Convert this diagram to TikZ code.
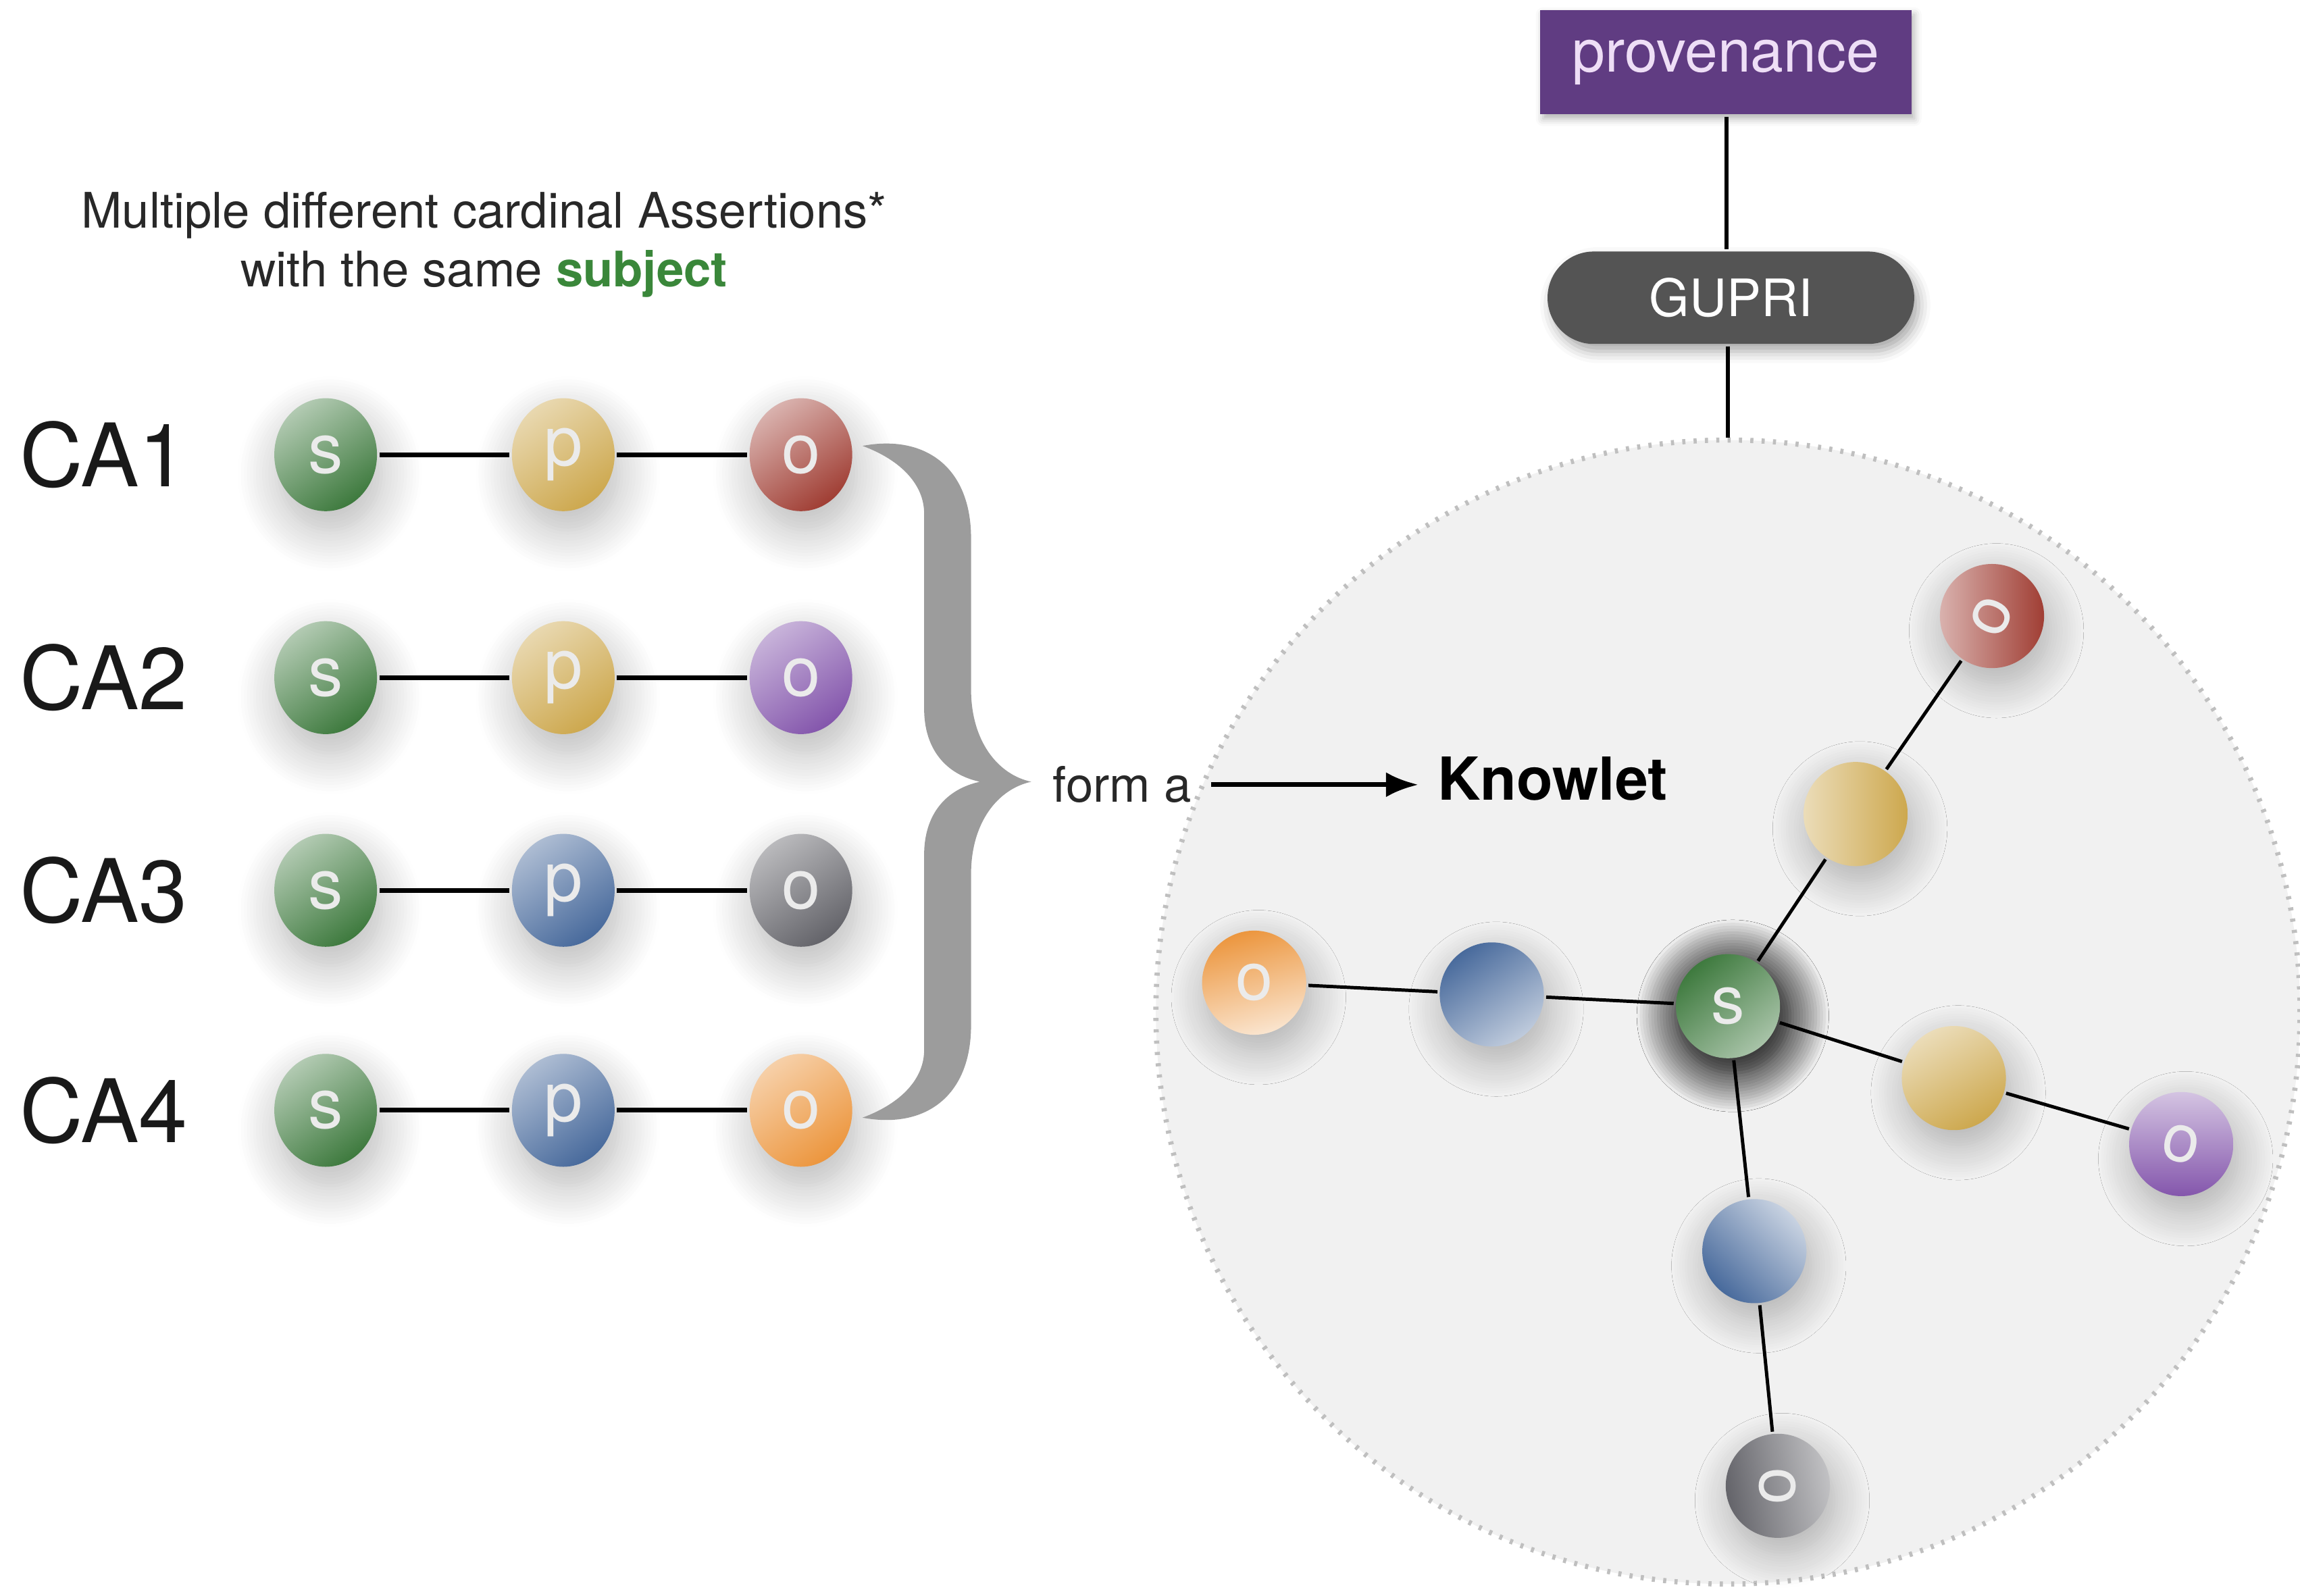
\documentclass[tikz,border=0pt]{standalone}
\usepackage{fontspec}
\setmainfont{TeX Gyre Heros}
\usepackage{graphicx}
\usetikzlibrary{arrows.meta,shapes.geometric,shadows.blur}

\definecolor{subjgreen}{RGB}{62,122,62}
\definecolor{subjtext}{RGB}{58,135,58}
\definecolor{predyellow}{RGB}{205,168,78}
\definecolor{predblue}{RGB}{72,106,156}
\definecolor{objred}{RGB}{160,62,52}
\definecolor{objpurple}{RGB}{132,86,172}
\definecolor{objgray}{RGB}{100,100,106}
\definecolor{objorange}{RGB}{236,150,62}
\definecolor{provpurple}{RGB}{96,60,130}
\definecolor{provtext}{RGB}{238,222,246}
\definecolor{gupgray}{RGB}{84,84,84}
\definecolor{bracegray}{RGB}{156,156,156}
\definecolor{knowfill}{RGB}{241,241,241}
\definecolor{txtgray}{RGB}{40,40,40}

\begin{document}
\begin{tikzpicture}[line width=0.9pt,>={Latex[length=2.2mm,width=1.7mm]},
  shd/.style n args={3}{top color=#1,bottom color=#2,shading angle=#3},
  ball/.style={ellipse,minimum width=0.70cm,minimum height=0.77cm,inner sep=0pt,text=white!92!black,
    font=\fontsize{13.5}{13.5}\selectfont,
    blur shadow={shadow xshift=0.03cm,shadow yshift=-0.13cm,shadow blur radius=0.28cm,
      shadow blur steps=14,shadow opacity=28}},
  kball/.style={circle,minimum size=0.71cm,inner sep=0pt,text=white!92!black,
    font=\fontsize{13}{13}\selectfont,
    blur shadow={shadow xshift=0.03cm,shadow yshift=-0.10cm,shadow blur radius=0.24cm,
      shadow blur steps=14,shadow opacity=28}},
  calabel/.style={anchor=west,inner sep=0pt,text=black!90,font=\fontsize{17}{17}\selectfont},
  kline/.style={line width=0.65pt}]
  \useasboundingbox (0,0) rectangle (15.68,-10.88);
  % knowlet (circulo de fondo)
  \node[circle,minimum size=7.80cm,inner sep=0pt,fill=knowfill,draw=gray!50,line width=1pt,
    dash pattern=on 0.6pt off 1.6pt] (kcirc) at (11.78,-6.90) {};
  % titulo
  \node[align=center,text=txtgray,font=\fontsize{9.5}{11.4}\selectfont] (title) at (3.30,-1.67)
    {Multiple different cardinal Assertions*\\with the same {\bfseries\color{subjtext}subject}};
  % filas CA1..CA4
  \node[calabel] (ca1) at (0.12,-3.10) {CA1};
  \node[ball,shd={subjgreen!40!white}{subjgreen}{35}] (s1) at (2.22,-3.10) {s};
  \node[ball,shd={predyellow!45!white}{predyellow}{35}] (p1) at (3.84,-3.10) {p};
  \node[ball,shd={objred!40!white}{objred}{35}] (o1) at (5.46,-3.10) {o};
  \draw (s1) -- (p1) -- (o1);
  \node[calabel] (ca2) at (0.12,-4.62) {CA2};
  \node[ball,shd={subjgreen!40!white}{subjgreen}{35}] (s2) at (2.22,-4.62) {s};
  \node[ball,shd={predyellow!45!white}{predyellow}{35}] (p2) at (3.84,-4.62) {p};
  \node[ball,shd={objpurple!45!white}{objpurple}{35}] (o2) at (5.46,-4.62) {o};
  \draw (s2) -- (p2) -- (o2);
  \node[calabel] (ca3) at (0.12,-6.07) {CA3};
  \node[ball,shd={subjgreen!40!white}{subjgreen}{35}] (s3) at (2.22,-6.07) {s};
  \node[ball,shd={predblue!45!white}{predblue}{35}] (p3) at (3.84,-6.07) {p};
  \node[ball,shd={objgray!45!white}{objgray}{35}] (o3) at (5.46,-6.07) {o};
  \draw (s3) -- (p3) -- (o3);
  \node[calabel] (ca4) at (0.12,-7.57) {CA4};
  \node[ball,shd={subjgreen!40!white}{subjgreen}{35}] (s4) at (2.22,-7.57) {s};
  \node[ball,shd={predblue!45!white}{predblue}{35}] (p4) at (3.84,-7.57) {p};
  \node[ball,shd={objorange!45!white}{objorange}{35}] (o4) at (5.46,-7.57) {o};
  \draw (s4) -- (p4) -- (o4);
  % llave
  \fill[bracegray] (5.88,-3.04) .. controls (6.30,-2.96) and (6.62,-3.18) .. (6.62,-3.67) -- (6.62,-4.70)
    .. controls (6.62,-5.05) and (6.80,-5.28) .. (7.03,-5.33)
    .. controls (6.80,-5.38) and (6.62,-5.61) .. (6.62,-5.96) -- (6.62,-6.99)
    .. controls (6.62,-7.48) and (6.30,-7.70) .. (5.88,-7.62)
    .. controls (6.15,-7.52) and (6.30,-7.35) .. (6.30,-7.16) -- (6.30,-5.83)
    .. controls (6.30,-5.55) and (6.45,-5.38) .. (6.68,-5.33)
    .. controls (6.45,-5.28) and (6.30,-5.11) .. (6.30,-4.83) -- (6.30,-3.50)
    .. controls (6.30,-3.31) and (6.15,-3.14) .. (5.88,-3.04) -- cycle;
  % form a -> Knowlet
  \node[text=txtgray,font=\fontsize{9.5}{11}\selectfont] (forma) at (7.65,-5.35) {form a};
  \node[font=\bfseries\fontsize{11.5}{12}\selectfont] (knowlet) at (10.585,-5.31) {Knowlet};
  \draw[->] (forma.east) -- (forma.east -| knowlet.west);
  % provenance y GUPRI
  \node[fill=provpurple,text=provtext,minimum width=2.53cm,minimum height=0.71cm,
    font=\fontsize{11.5}{12}\selectfont,
    blur shadow={shadow xshift=0.02cm,shadow yshift=-0.03cm,shadow blur radius=0.05cm,shadow opacity=30}] (prov) at (11.765,-0.425) {provenance};
  \node[fill=gupgray,text=white,rounded corners=0.315cm,minimum width=2.50cm,minimum height=0.63cm,
    font=\fontsize{10}{11}\selectfont,
    blur shadow={shadow xshift=0.03cm,shadow yshift=-0.05cm,shadow blur radius=0.08cm,shadow opacity=35}] (gupri) at (11.80,-2.03) {GUPRI};
  \draw[line width=0.8pt] (prov.south -| 11.77,0) -- (gupri.north -| 11.77,0);
  \draw[line width=0.8pt] (gupri.south -| kcirc.north) -- (kcirc.north);
  % nodos del knowlet
  \node[kball,shd={subjgreen}{subjgreen!45!white}{40},
    blur shadow={shadow xshift=0.03cm,shadow yshift=-0.06cm,shadow blur radius=0.24cm,shadow scale=1.10,
      shadow blur steps=14,shadow opacity=70}] (ks) at (11.78,-6.86) {s};
  \node[kball,shd={predblue}{predblue!35!white}{35}] (kp1) at (10.17,-6.78) {};
  \node[kball,shd={objorange}{objorange!25!white}{15}] (ko1) at (8.55,-6.70) {o};
  \node[kball,shd={predyellow!40!white}{predyellow}{90}] (kp2) at (12.65,-5.55) {};
  \node[kball,shd={objred!40!white}{objred}{90}] (ko2) at (13.58,-4.20) {\rotatebox{65}{o}};
  \node[kball,shd={predyellow!40!white}{predyellow}{30}] (kp3) at (13.32,-7.35) {};
  \node[kball,shd={objpurple!35!white}{objpurple}{0}] (ko3) at (14.87,-7.80) {\rotatebox{-12}{o}};
  \node[kball,shd={predblue!30!white}{predblue}{-45}] (kp4) at (11.96,-8.53) {};
  \node[kball,shd={objgray!40!white}{objgray}{-80}] (ko4) at (12.12,-10.13) {\rotatebox{90}{o}};
  \draw[kline] (ks) -- (kp1) -- (ko1);
  \draw[kline] (ks) -- (kp2) -- (ko2);
  \draw[kline] (ks) -- (kp3) -- (ko3);
  \draw[kline] (ks) -- (kp4) -- (ko4);
\end{tikzpicture}
\end{document}
